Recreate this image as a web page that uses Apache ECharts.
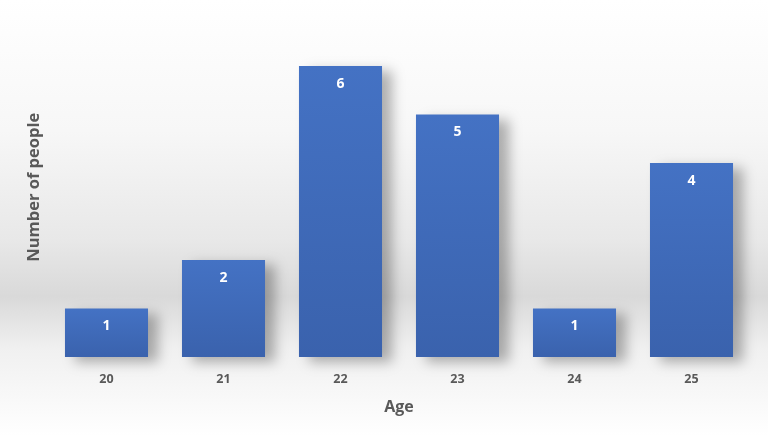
<!DOCTYPE html>
<html><head><meta charset="utf-8">
<script src="https://cdn.jsdelivr.net/npm/echarts@6/dist/echarts.min.js"></script>
<style>html,body{margin:0;padding:0;background:#fff}#c{width:768px;height:436px}</style>
</head><body><div id="c"></div>
<script>
const categories = ['20','21','22','23','24','25'];
const values = [1,2,6,5,1,4];
const xTitle = 'Age';
const yTitle = 'Number of people';

const chart = echarts.init(document.getElementById('c'));
chart.setOption({
  backgroundColor: {
    type: 'linear', x: 0, y: 0, x2: 0, y2: 1,
    colorStops: [
      {offset: 0, color: '#ffffff'},
      {offset: 0.3, color: '#f7f7f7'},
      {offset: 0.55, color: '#e8e8e8'},
      {offset: 0.68, color: '#d9d9d9'},
      {offset: 0.8, color: '#f0f0f0'},
      {offset: 1, color: '#ffffff'}
    ]
  },
  animation: false,
  grid: {left: 48, right: 18, top: 17.5, bottom: 79, containLabel: false},
  xAxis: {
    type: 'category', data: categories,
    axisLine: {show: false}, axisTick: {show: false},
    axisLabel: {color: '#595959', fontWeight: 'bold', fontSize: 12.5, margin: 16, fontFamily: 'Open Sans'},
    name: xTitle, nameLocation: 'middle', nameGap: 42,
    nameTextStyle: {color: '#595959', fontWeight: 'bold', fontSize: 16, fontFamily: 'Open Sans'}
  },
  yAxis: {
    type: 'value', min: 0, max: 7, interval: 1,
    axisLine: {show: false}, axisTick: {show: false}, axisLabel: {show: false},
    splitLine: {show: false},
    name: yTitle, nameLocation: 'middle', nameGap: 5, nameRotate: 90,
    nameTextStyle: {color: '#595959', fontWeight: 'bold', fontSize: 16.5, fontFamily: 'Open Sans'}
  },
  series: [{
    type: 'bar', data: values, barCategoryGap: '29%',
    itemStyle: {
      color: {type: 'linear', x: 0, y: 0, x2: 0, y2: 1,
        colorStops: [{offset: 0, color: '#4472c4'}, {offset: 1, color: '#3a62ad'}]},
      shadowColor: 'rgba(0,0,0,0.3)', shadowBlur: 12, shadowOffsetX: 10, shadowOffsetY: 5
    },
    label: {show: true, position: 'insideTop', distance: 11, color: '#ffffff',
      fontWeight: 'bold', fontSize: 14, fontFamily: 'Open Sans'}
  }]
});
</script></body></html>
